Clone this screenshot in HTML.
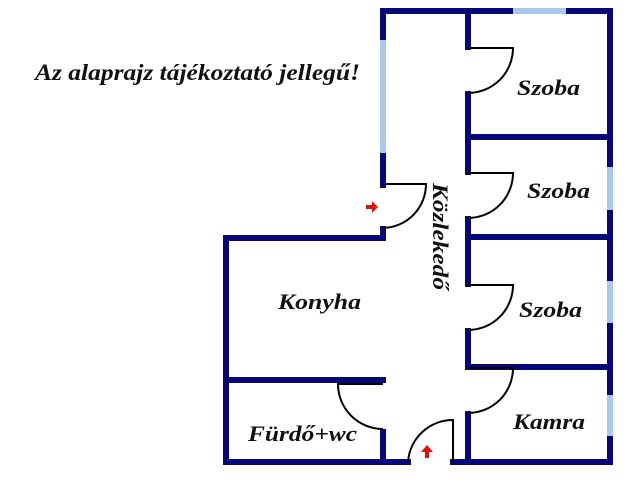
<!DOCTYPE html>
<html><head><meta charset="utf-8"><style>
html,body{margin:0;padding:0;background:#fff;}
svg{display:block}
text{font-family:"Liberation Serif",serif;font-style:italic;font-weight:bold;fill:#111;}
</style></head><body>
<svg width="640" height="480" viewBox="0 0 640 480" xmlns="http://www.w3.org/2000/svg">
<g stroke="#07077a" stroke-width="6" fill="none" stroke-linecap="square">
  <line x1="383" y1="11" x2="610" y2="11"/>
  <line x1="610" y1="11" x2="610" y2="462"/>
  <line x1="383" y1="11" x2="383" y2="185"/>
  <line x1="383" y1="229" x2="383" y2="238"/>
  <line x1="226" y1="238" x2="383" y2="238"/>
  <line x1="226" y1="238" x2="226" y2="462"/>
  <line x1="226" y1="462" x2="408" y2="462"/>
  <line x1="453" y1="462" x2="610" y2="462"/>
  <line x1="226" y1="380" x2="383" y2="380"/>
  <line x1="383" y1="432" x2="383" y2="462"/>
  <line x1="468" y1="11" x2="468" y2="47"/>
  <line x1="468" y1="94" x2="468" y2="172"/>
  <line x1="468" y1="219" x2="468" y2="284"/>
  <line x1="468" y1="331" x2="468" y2="367"/>
  <line x1="468" y1="414" x2="468" y2="462"/>
  <line x1="468" y1="137" x2="610" y2="137"/>
  <line x1="468" y1="237" x2="610" y2="237"/>
  <line x1="468" y1="367" x2="610" y2="367"/>
</g>
<g stroke="#a8c8ec" stroke-width="6" fill="none">
  <line x1="513" y1="11" x2="566" y2="11"/>
  <line x1="383" y1="40" x2="383" y2="153"/>
  <line x1="610" y1="167" x2="610" y2="210"/>
  <line x1="610" y1="281" x2="610" y2="323"/>
  <line x1="610" y1="395" x2="610" y2="436"/>
</g>
<g stroke="#000" stroke-width="2" fill="none">
  <path d="M468 48 H513 A45 45 0 0 1 468 93"/>
  <path d="M468 173 H513 A45 45 0 0 1 468 218"/>
  <path d="M468 285 H513 A45 45 0 0 1 468 330"/>
  <path d="M468 368 H513 A45 45 0 0 1 468 413"/>
  <path d="M383 184 H426 A44 44 0 0 1 383 228"/>
  <path d="M383 384 H338 A45 45 0 0 0 383 429"/>
  <path d="M453 462 V420 A45 45 0 0 0 408 462"/>
</g>
<g fill="#e01010">
  <path d="M366 205 h6 v-4 l6 6 l-6 6 v-4 h-6z"/>
  <path d="M425 458 v-6 h-4 l6 -7 l6 7 h-4 v6z"/>
</g>
<text x="35" y="80" font-size="23" textLength="325" lengthAdjust="spacingAndGlyphs">Az alaprajz tájékoztató jellegű!</text>
<text x="517" y="95" font-size="22" textLength="63" lengthAdjust="spacingAndGlyphs">Szoba</text>
<text x="527" y="198" font-size="22" textLength="63" lengthAdjust="spacingAndGlyphs">Szoba</text>
<text x="519" y="317" font-size="22" textLength="63" lengthAdjust="spacingAndGlyphs">Szoba</text>
<text x="513" y="429" font-size="22" textLength="72" lengthAdjust="spacingAndGlyphs">Kamra</text>
<text x="278" y="309" font-size="22" textLength="83" lengthAdjust="spacingAndGlyphs">Konyha</text>
<text x="248" y="441" font-size="22" textLength="109" lengthAdjust="spacingAndGlyphs">Fürdő+wc</text>
<text transform="translate(433,183) rotate(90)" font-size="22" textLength="107" lengthAdjust="spacingAndGlyphs">Közlekedő</text>
</svg>
</body></html>
